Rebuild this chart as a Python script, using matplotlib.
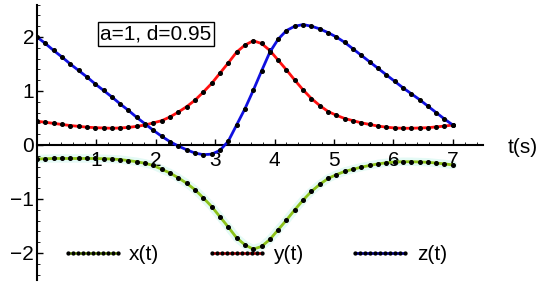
import matplotlib.pyplot as plt
import numpy as np
from matplotlib.ticker import MultipleLocator

plt.rcParams['font.family'] = ['Liberation Sans', 'DejaVu Sans']

# sample times (s)
t = [0.00, 0.14, 0.28, 0.42, 0.56, 0.70, 0.84, 0.98, 1.12, 1.26,
     1.40, 1.54, 1.68, 1.82, 1.96, 2.10, 2.24, 2.38, 2.52, 2.66,
     2.80, 2.94, 3.08, 3.22, 3.36, 3.50, 3.64, 3.78, 3.92, 4.06,
     4.20, 4.34, 4.48, 4.62, 4.76, 4.90, 5.04, 5.18, 5.32, 5.46,
     5.60, 5.74, 5.88, 6.02, 6.16, 6.30, 6.44, 6.58, 6.72, 6.86, 7.00]

x_t = [-0.26, -0.255, -0.25, -0.25, -0.25, -0.25, -0.25, -0.25, -0.255, -0.26,
       -0.27, -0.29, -0.31, -0.34, -0.38, -0.45, -0.52, -0.61, -0.71, -0.83,
       -0.98, -1.14, -1.33, -1.52, -1.72, -1.85, -1.93, -1.88, -1.75, -1.57,
       -1.39, -1.20, -1.02, -0.86, -0.73, -0.62, -0.55, -0.49, -0.45, -0.41,
       -0.38, -0.35, -0.33, -0.315, -0.31, -0.31, -0.315, -0.32, -0.335, -0.35, -0.37]

y_t = [0.44, 0.42, 0.40, 0.38, 0.36, 0.345, 0.33, 0.32, 0.315, 0.31,
       0.315, 0.325, 0.345, 0.37, 0.41, 0.45, 0.52, 0.61, 0.71, 0.83,
       0.98, 1.14, 1.33, 1.52, 1.72, 1.85, 1.93, 1.88, 1.75, 1.57,
       1.39, 1.20, 1.02, 0.86, 0.73, 0.62, 0.55, 0.49, 0.45, 0.41,
       0.38, 0.35, 0.33, 0.315, 0.31, 0.31, 0.315, 0.32, 0.335, 0.35, 0.37]

z_t = [2.00, 1.88, 1.75, 1.63, 1.50, 1.38, 1.26, 1.13, 1.01, 0.89,
       0.76, 0.64, 0.51, 0.39, 0.27, 0.16, 0.06, -0.02, -0.09, -0.15,
       -0.18, -0.17, -0.10, 0.07, 0.37, 0.67, 1.01, 1.37, 1.72, 1.96,
       2.12, 2.20, 2.23, 2.20, 2.15, 2.08, 2.00, 1.90, 1.78, 1.66,
       1.54, 1.42, 1.30, 1.18, 1.06, 0.95, 0.84, 0.72, 0.60, 0.48, 0.37]

fs = 15

fig = plt.figure(figsize=(5.5, 2.88), dpi=100)
ax = fig.add_axes([0.0673, 0.028, 0.81, 0.956])

ax.plot(t, x_t, color='#e4faf5', lw=6, solid_capstyle='round', zorder=1)
ax.plot(t, x_t, color='#8cc21a', lw=2, marker='o', ms=2.6, mfc='black',
        mec='black', label='x(t)', zorder=3)
ax.plot(t, y_t, color='#ff1010', lw=2, marker='o', ms=2.6, mfc='black',
        mec='black', label='y(t)', zorder=3)
ax.plot(t, z_t, color='#1010e0', lw=2, marker='o', ms=2.6, mfc='black',
        mec='black', label='z(t)', zorder=3)

ax.set_xlim(0, 7.5)
ax.set_ylim(-2.5, 2.6)
ax.spines['left'].set_position(('data', 0))
ax.spines['bottom'].set_position(('data', 0))
ax.spines['top'].set_visible(False)
ax.spines['right'].set_visible(False)
for s in ('left', 'bottom'):
    ax.spines[s].set_linewidth(1.5)

ax.set_xticks([1, 2, 3, 4, 5, 6, 7])
ax.set_yticks([-2, -1, 0, 1, 2])
ax.set_yticklabels(['\u22122', '\u22121', '0', '1', '2'])
ax.xaxis.set_minor_locator(MultipleLocator(0.2))
ax.yaxis.set_minor_locator(MultipleLocator(0.2))
ax.tick_params(which='major', direction='in', length=4, width=1, labelsize=fs)
ax.tick_params(axis='x', which='major', pad=4)
ax.tick_params(axis='y', which='major', pad=2)
ax.tick_params(which='minor', direction='in', length=2, width=0.6)

ax.text(2.0, 2.05, 'a=1, d=0.95', fontsize=fs, ha='center', va='center',
        bbox=dict(boxstyle='square,pad=0.12', fc='white', ec='black', lw=1))
ax.annotate('t(s)', xy=(8.17, -0.05), xycoords='data', fontsize=fs,
            ha='center', va='center', annotation_clip=False)

ax.legend(loc='center left', bbox_to_anchor=(0.055, 0.091), ncol=3,
          frameon=False, fontsize=fs, handlelength=3.0, handletextpad=0.25,
          columnspacing=2.2, numpoints=11, borderaxespad=0, borderpad=0,
          markerscale=0.8)

fig.savefig('out.png', dpi=100)
